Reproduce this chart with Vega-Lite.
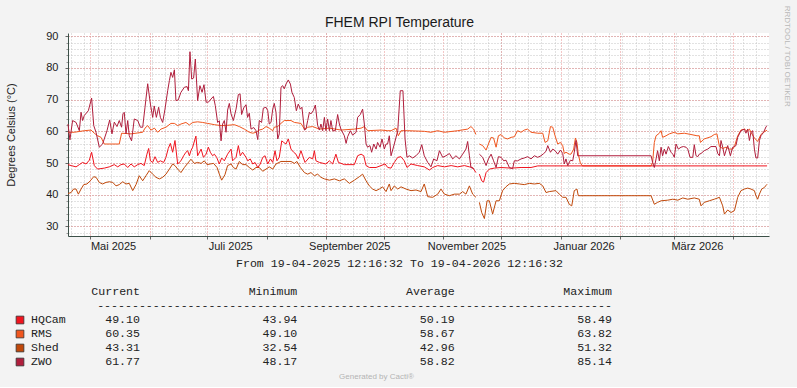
{
"$schema":"https://vega.github.io/schema/vega-lite/v6.json",
"background":"#f3f3f3",
"padding":{"left":5,"top":5,"right":6,"bottom":7},
"title":{"text":"RRDTOOL / TOBI OETIKER","orient":"right","anchor":"start","font":"Liberation Sans","fontSize":8,"fontWeight":"normal","color":"#b8b8b8","offset":14,"dx":-10},
"config":{"view":{"stroke":null},"line":{"invalid":"break-paths-filter-domains"}},
"spacing":6,
"vconcat":[
{
"width":701,"height":203,
"view":{"fill":"#ffffff","stroke":null},
"title":{"text":"FHEM RPI Temperature","font":"Liberation Sans","fontSize":14,"fontWeight":"normal","color":"#1a1a1a","anchor":"middle","frame":"group","dx":-19,"offset":0.5},
"data":{"values":[
{"s":"RMS","day":0,"v":59.7},{"s":"RMS","day":3.3,"v":59.7},{"s":"RMS","day":8.5,"v":60.2},{"s":"RMS","day":12.0,"v":60.4},{"s":"RMS","day":13.7,"v":59.4},{"s":"RMS","day":15.4,"v":58.6},{"s":"RMS","day":17.2,"v":58.1},{"s":"RMS","day":18.9,"v":56.0},{"s":"RMS","day":26.7,"v":56.0},{"s":"RMS","day":27.9,"v":59.4},{"s":"RMS","day":32.8,"v":59.2},{"s":"RMS","day":38.9,"v":59.7},{"s":"RMS","day":40.1,"v":61.0},{"s":"RMS","day":41.5,"v":61.8},{"s":"RMS","day":43.2,"v":60.4},{"s":"RMS","day":45.0,"v":61.0},{"s":"RMS","day":46.7,"v":59.7},{"s":"RMS","day":48.4,"v":60.7},{"s":"RMS","day":51.0,"v":61.3},{"s":"RMS","day":53.6,"v":62.5},{"s":"RMS","day":55.4,"v":62.5},{"s":"RMS","day":57.1,"v":61.8},{"s":"RMS","day":58.8,"v":62.3},{"s":"RMS","day":61.4,"v":62.8},{"s":"RMS","day":63.2,"v":62.0},{"s":"RMS","day":64.9,"v":62.8},{"s":"RMS","day":67.5,"v":63.0},{"s":"RMS","day":70.1,"v":62.8},{"s":"RMS","day":72.7,"v":62.5},{"s":"RMS","day":76.2,"v":62.1},{"s":"RMS","day":79.7,"v":61.8},{"s":"RMS","day":83.1,"v":61.9},{"s":"RMS","day":86.6,"v":62.1},{"s":"RMS","day":89.2,"v":61.5},{"s":"RMS","day":91.8,"v":60.7},{"s":"RMS","day":94.4,"v":59.7},{"s":"RMS","day":96.2,"v":59.4},{"s":"RMS","day":97.9,"v":59.7},{"s":"RMS","day":99.6,"v":60.4},{"s":"RMS","day":101.4,"v":60.7},{"s":"RMS","day":103.1,"v":61.5},{"s":"RMS","day":104.8,"v":61.0},{"s":"RMS","day":106.6,"v":60.2},{"s":"RMS","day":107.4,"v":61.3},{"s":"RMS","day":109.2,"v":61.5},{"s":"RMS","day":110.9,"v":62.5},{"s":"RMS","day":112.6,"v":63.4},{"s":"RMS","day":116.1,"v":63.4},{"s":"RMS","day":117.9,"v":62.8},{"s":"RMS","day":121.3,"v":62.5},{"s":"RMS","day":123.1,"v":60.7},{"s":"RMS","day":124.8,"v":61.3},{"s":"RMS","day":127.4,"v":61.5},{"s":"RMS","day":130.9,"v":60.7},{"s":"RMS","day":136.1,"v":61.0},{"s":"RMS","day":142.2,"v":60.4},{"s":"RMS","day":149.1,"v":60.7},{"s":"RMS","day":152.6,"v":61.0},{"s":"RMS","day":154.3,"v":61.5},{"s":"RMS","day":156.0,"v":60.2},{"s":"RMS","day":163.0,"v":60.4},{"s":"RMS","day":166.5,"v":60.2},{"s":"RMS","day":168.2,"v":60.2},{"s":"RMS","day":170.8,"v":61.0},{"s":"RMS","day":172.0,"v":58.6},{"s":"RMS","day":173.4,"v":60.2},{"s":"RMS","day":176.9,"v":60.2},{"s":"RMS","day":185.5,"v":60.0},{"s":"RMS","day":189.0,"v":59.7},{"s":"RMS","day":192.5,"v":60.2},{"s":"RMS","day":196.0,"v":59.7},{"s":"RMS","day":202.9,"v":60.2},{"s":"RMS","day":208.1,"v":60.7},{"s":"RMS","day":209.8,"v":61.5},{"s":"RMS","day":211.2,"v":60.7},{"s":"RMS","day":212.4,"v":59.0},{"s":"RMS","day":213.3,"v":null},{"s":"RMS","day":214.2,"v":56.0},{"s":"RMS","day":215.9,"v":55.5},{"s":"RMS","day":217.7,"v":54.1},{"s":"RMS","day":218.9,"v":56.0},{"s":"RMS","day":220.3,"v":58.1},{"s":"RMS","day":221.6,"v":57.9},{"s":"RMS","day":222.9,"v":55.0},{"s":"RMS","day":224.1,"v":58.6},{"s":"RMS","day":225.5,"v":59.0},{"s":"RMS","day":227.2,"v":57.9},{"s":"RMS","day":228.9,"v":57.6},{"s":"RMS","day":230.7,"v":58.1},{"s":"RMS","day":232.4,"v":58.3},{"s":"RMS","day":234.1,"v":60.2},{"s":"RMS","day":235.9,"v":59.7},{"s":"RMS","day":237.6,"v":60.4},{"s":"RMS","day":239.3,"v":60.7},{"s":"RMS","day":241.1,"v":59.7},{"s":"RMS","day":244.6,"v":59.4},{"s":"RMS","day":247.2,"v":59.4},{"s":"RMS","day":248.4,"v":56.5},{"s":"RMS","day":249.8,"v":57.0},{"s":"RMS","day":251.2,"v":61.5},{"s":"RMS","day":252.4,"v":61.3},{"s":"RMS","day":253.6,"v":58.6},{"s":"RMS","day":255.0,"v":56.0},{"s":"RMS","day":256.4,"v":56.5},{"s":"RMS","day":257.6,"v":55.5},{"s":"RMS","day":258.4,"v":53.0},{"s":"RMS","day":259.3,"v":53.4},{"s":"RMS","day":261.0,"v":52.8},{"s":"RMS","day":261.9,"v":52.8},{"s":"RMS","day":263.3,"v":54.4},{"s":"RMS","day":264.2,"v":57.9},{"s":"RMS","day":265.0,"v":56.5},{"s":"RMS","day":265.7,"v":52.8},{"s":"RMS","day":266.8,"v":49.9},{"s":"RMS","day":268.0,"v":49.1},{"s":"RMS","day":303.6,"v":49.1},{"s":"RMS","day":304.4,"v":50.2},{"s":"RMS","day":305.3,"v":56.5},{"s":"RMS","day":306.2,"v":58.6},{"s":"RMS","day":307.9,"v":59.4},{"s":"RMS","day":308.8,"v":60.2},{"s":"RMS","day":309.6,"v":58.1},{"s":"RMS","day":311.4,"v":58.6},{"s":"RMS","day":313.1,"v":59.2},{"s":"RMS","day":315.7,"v":59.7},{"s":"RMS","day":317.5,"v":59.2},{"s":"RMS","day":320.9,"v":59.4},{"s":"RMS","day":324.4,"v":59.0},{"s":"RMS","day":327.5,"v":58.6},{"s":"RMS","day":328.7,"v":58.6},{"s":"RMS","day":329.3,"v":56.5},{"s":"RMS","day":331.3,"v":57.6},{"s":"RMS","day":334.8,"v":58.3},{"s":"RMS","day":336.5,"v":59.0},{"s":"RMS","day":337.9,"v":59.2},{"s":"RMS","day":339.2,"v":55.2},{"s":"RMS","day":340.9,"v":54.6},{"s":"RMS","day":342.6,"v":55.0},{"s":"RMS","day":344.4,"v":54.4},{"s":"RMS","day":346.1,"v":54.4},{"s":"RMS","day":347.0,"v":55.2},{"s":"RMS","day":348.7,"v":58.6},{"s":"RMS","day":350.4,"v":60.4},{"s":"RMS","day":352.2,"v":60.7},{"s":"RMS","day":353.6,"v":60.0},{"s":"RMS","day":354.8,"v":60.7},{"s":"RMS","day":355.6,"v":59.7},{"s":"RMS","day":357.4,"v":57.9},{"s":"RMS","day":359.1,"v":56.8},{"s":"RMS","day":360.8,"v":59.0},{"s":"RMS","day":362.2,"v":59.7},{"s":"RMS","day":363.5,"v":60.2},{"s":"RMS","day":364.0,"v":60.35},
{"s":"Shed","day":0,"v":40.4},{"s":"Shed","day":1.6,"v":40.7},{"s":"Shed","day":2.9,"v":41.8},{"s":"Shed","day":4.2,"v":41.8},{"s":"Shed","day":5.4,"v":40.2},{"s":"Shed","day":6.8,"v":41.8},{"s":"Shed","day":8.2,"v":43.2},{"s":"Shed","day":9.9,"v":43.4},{"s":"Shed","day":11.6,"v":44.4},{"s":"Shed","day":13.4,"v":45.7},{"s":"Shed","day":14.6,"v":45.5},{"s":"Shed","day":16.3,"v":43.9},{"s":"Shed","day":18.0,"v":43.4},{"s":"Shed","day":19.8,"v":43.9},{"s":"Shed","day":21.5,"v":44.1},{"s":"Shed","day":23.3,"v":43.9},{"s":"Shed","day":25.0,"v":42.8},{"s":"Shed","day":26.7,"v":43.2},{"s":"Shed","day":28.5,"v":44.1},{"s":"Shed","day":30.2,"v":43.4},{"s":"Shed","day":31.9,"v":43.6},{"s":"Shed","day":33.7,"v":41.3},{"s":"Shed","day":35.4,"v":43.2},{"s":"Shed","day":37.1,"v":46.0},{"s":"Shed","day":38.9,"v":44.4},{"s":"Shed","day":40.6,"v":46.0},{"s":"Shed","day":42.3,"v":47.6},{"s":"Shed","day":44.1,"v":46.5},{"s":"Shed","day":45.8,"v":45.5},{"s":"Shed","day":47.6,"v":45.0},{"s":"Shed","day":49.3,"v":45.5},{"s":"Shed","day":51.0,"v":46.5},{"s":"Shed","day":52.8,"v":48.1},{"s":"Shed","day":54.5,"v":49.7},{"s":"Shed","day":55.7,"v":49.2},{"s":"Shed","day":57.1,"v":48.1},{"s":"Shed","day":58.8,"v":47.0},{"s":"Shed","day":60.6,"v":48.6},{"s":"Shed","day":62.3,"v":49.9},{"s":"Shed","day":64.0,"v":51.2},{"s":"Shed","day":65.8,"v":49.9},{"s":"Shed","day":67.5,"v":50.2},{"s":"Shed","day":69.3,"v":49.9},{"s":"Shed","day":71.0,"v":50.7},{"s":"Shed","day":72.4,"v":49.5},{"s":"Shed","day":74.1,"v":49.7},{"s":"Shed","day":75.8,"v":49.9},{"s":"Shed","day":77.6,"v":48.6},{"s":"Shed","day":78.8,"v":46.5},{"s":"Shed","day":80.0,"v":44.6},{"s":"Shed","day":81.7,"v":46.3},{"s":"Shed","day":83.1,"v":49.2},{"s":"Shed","day":84.9,"v":49.7},{"s":"Shed","day":86.1,"v":48.6},{"s":"Shed","day":87.5,"v":48.1},{"s":"Shed","day":89.2,"v":50.5},{"s":"Shed","day":90.9,"v":49.5},{"s":"Shed","day":92.7,"v":49.5},{"s":"Shed","day":94.4,"v":48.6},{"s":"Shed","day":96.2,"v":47.8},{"s":"Shed","day":97.9,"v":48.6},{"s":"Shed","day":99.6,"v":48.6},{"s":"Shed","day":101.4,"v":47.4},{"s":"Shed","day":103.1,"v":48.1},{"s":"Shed","day":104.8,"v":48.8},{"s":"Shed","day":106.6,"v":48.1},{"s":"Shed","day":108.3,"v":49.7},{"s":"Shed","day":110.9,"v":50.5},{"s":"Shed","day":113.5,"v":50.5},{"s":"Shed","day":116.1,"v":50.5},{"s":"Shed","day":117.9,"v":49.9},{"s":"Shed","day":119.2,"v":50.5},{"s":"Shed","day":121.0,"v":48.6},{"s":"Shed","day":123.1,"v":47.0},{"s":"Shed","day":124.8,"v":46.5},{"s":"Shed","day":126.5,"v":47.0},{"s":"Shed","day":128.3,"v":46.0},{"s":"Shed","day":130.0,"v":46.5},{"s":"Shed","day":131.7,"v":45.5},{"s":"Shed","day":133.5,"v":45.0},{"s":"Shed","day":136.1,"v":44.6},{"s":"Shed","day":138.7,"v":45.0},{"s":"Shed","day":141.3,"v":44.4},{"s":"Shed","day":143.9,"v":45.0},{"s":"Shed","day":146.5,"v":43.6},{"s":"Shed","day":149.1,"v":44.6},{"s":"Shed","day":151.7,"v":45.7},{"s":"Shed","day":153.4,"v":46.5},{"s":"Shed","day":155.2,"v":44.4},{"s":"Shed","day":156.9,"v":42.8},{"s":"Shed","day":158.6,"v":41.8},{"s":"Shed","day":160.4,"v":41.3},{"s":"Shed","day":162.1,"v":41.8},{"s":"Shed","day":163.8,"v":42.5},{"s":"Shed","day":165.6,"v":41.0},{"s":"Shed","day":167.3,"v":43.4},{"s":"Shed","day":168.2,"v":41.3},{"s":"Shed","day":169.9,"v":42.8},{"s":"Shed","day":171.7,"v":41.8},{"s":"Shed","day":173.4,"v":42.5},{"s":"Shed","day":176.0,"v":41.8},{"s":"Shed","day":178.6,"v":41.3},{"s":"Shed","day":181.2,"v":41.5},{"s":"Shed","day":183.8,"v":41.0},{"s":"Shed","day":185.5,"v":43.4},{"s":"Shed","day":187.3,"v":39.4},{"s":"Shed","day":189.9,"v":39.2},{"s":"Shed","day":192.5,"v":40.2},{"s":"Shed","day":194.2,"v":41.8},{"s":"Shed","day":196.0,"v":40.2},{"s":"Shed","day":198.6,"v":39.7},{"s":"Shed","day":201.2,"v":40.2},{"s":"Shed","day":203.8,"v":40.2},{"s":"Shed","day":205.5,"v":41.0},{"s":"Shed","day":207.2,"v":40.2},{"s":"Shed","day":209.0,"v":42.8},{"s":"Shed","day":210.7,"v":40.2},{"s":"Shed","day":212.4,"v":39.2},{"s":"Shed","day":213.3,"v":null},{"s":"Shed","day":214.2,"v":37.6},{"s":"Shed","day":215.4,"v":34.4},{"s":"Shed","day":216.8,"v":32.5},{"s":"Shed","day":218.2,"v":38.1},{"s":"Shed","day":219.4,"v":38.1},{"s":"Shed","day":221.1,"v":33.9},{"s":"Shed","day":222.9,"v":38.1},{"s":"Shed","day":224.6,"v":38.1},{"s":"Shed","day":226.3,"v":41.3},{"s":"Shed","day":228.0,"v":42.5},{"s":"Shed","day":229.8,"v":43.4},{"s":"Shed","day":232.4,"v":43.6},{"s":"Shed","day":235.0,"v":43.4},{"s":"Shed","day":237.6,"v":43.2},{"s":"Shed","day":240.2,"v":43.6},{"s":"Shed","day":242.8,"v":43.4},{"s":"Shed","day":245.4,"v":43.6},{"s":"Shed","day":247.2,"v":42.8},{"s":"Shed","day":248.9,"v":40.7},{"s":"Shed","day":250.6,"v":41.0},{"s":"Shed","day":254.1,"v":41.3},{"s":"Shed","day":255.8,"v":40.2},{"s":"Shed","day":257.6,"v":39.2},{"s":"Shed","day":259.3,"v":39.2},{"s":"Shed","day":261.0,"v":37.0},{"s":"Shed","day":262.3,"v":36.5},{"s":"Shed","day":263.6,"v":41.3},{"s":"Shed","day":265.0,"v":41.8},{"s":"Shed","day":265.7,"v":39.7},{"s":"Shed","day":303.6,"v":39.7},{"s":"Shed","day":305.3,"v":37.0},{"s":"Shed","day":307.0,"v":37.6},{"s":"Shed","day":308.8,"v":38.1},{"s":"Shed","day":312.3,"v":38.3},{"s":"Shed","day":314.9,"v":38.6},{"s":"Shed","day":317.5,"v":38.3},{"s":"Shed","day":320.1,"v":39.0},{"s":"Shed","day":322.7,"v":38.6},{"s":"Shed","day":326.1,"v":39.0},{"s":"Shed","day":328.7,"v":38.6},{"s":"Shed","day":329.6,"v":36.5},{"s":"Shed","day":331.3,"v":37.6},{"s":"Shed","day":333.9,"v":38.1},{"s":"Shed","day":336.5,"v":38.6},{"s":"Shed","day":339.2,"v":39.2},{"s":"Shed","day":340.9,"v":36.5},{"s":"Shed","day":341.8,"v":33.9},{"s":"Shed","day":343.5,"v":35.2},{"s":"Shed","day":345.2,"v":34.4},{"s":"Shed","day":347.0,"v":35.0},{"s":"Shed","day":348.7,"v":39.2},{"s":"Shed","day":350.4,"v":41.3},{"s":"Shed","day":352.2,"v":41.8},{"s":"Shed","day":353.9,"v":42.1},{"s":"Shed","day":355.6,"v":41.8},{"s":"Shed","day":357.4,"v":41.3},{"s":"Shed","day":358.2,"v":39.7},{"s":"Shed","day":359.1,"v":38.6},{"s":"Shed","day":360.0,"v":40.2},{"s":"Shed","day":361.2,"v":41.8},{"s":"Shed","day":362.6,"v":42.3},{"s":"Shed","day":363.5,"v":43.0},{"s":"Shed","day":364.0,"v":43.31},
{"s":"HQCam","day":0,"v":49.5},{"s":"HQCam","day":1.6,"v":49.2},{"s":"HQCam","day":4.2,"v":48.8},{"s":"HQCam","day":5.9,"v":49.5},{"s":"HQCam","day":7.6,"v":50.2},{"s":"HQCam","day":9.4,"v":49.7},{"s":"HQCam","day":11.1,"v":50.9},{"s":"HQCam","day":12.3,"v":53.4},{"s":"HQCam","day":13.7,"v":49.2},{"s":"HQCam","day":15.4,"v":48.1},{"s":"HQCam","day":18.9,"v":48.4},{"s":"HQCam","day":21.5,"v":48.8},{"s":"HQCam","day":24.1,"v":49.5},{"s":"HQCam","day":25.9,"v":48.8},{"s":"HQCam","day":27.6,"v":49.5},{"s":"HQCam","day":29.3,"v":49.7},{"s":"HQCam","day":31.1,"v":48.6},{"s":"HQCam","day":32.8,"v":49.7},{"s":"HQCam","day":34.5,"v":48.8},{"s":"HQCam","day":36.3,"v":49.5},{"s":"HQCam","day":38.0,"v":49.9},{"s":"HQCam","day":39.7,"v":49.2},{"s":"HQCam","day":41.1,"v":52.8},{"s":"HQCam","day":42.0,"v":54.6},{"s":"HQCam","day":42.9,"v":50.7},{"s":"HQCam","day":44.1,"v":50.2},{"s":"HQCam","day":45.3,"v":52.0},{"s":"HQCam","day":46.7,"v":50.2},{"s":"HQCam","day":48.1,"v":50.7},{"s":"HQCam","day":49.8,"v":50.2},{"s":"HQCam","day":51.0,"v":51.8},{"s":"HQCam","day":52.2,"v":54.6},{"s":"HQCam","day":53.3,"v":56.2},{"s":"HQCam","day":54.5,"v":53.4},{"s":"HQCam","day":55.7,"v":57.1},{"s":"HQCam","day":57.1,"v":49.7},{"s":"HQCam","day":58.8,"v":50.7},{"s":"HQCam","day":60.2,"v":52.3},{"s":"HQCam","day":61.4,"v":53.4},{"s":"HQCam","day":62.3,"v":53.9},{"s":"HQCam","day":63.2,"v":52.3},{"s":"HQCam","day":64.0,"v":53.9},{"s":"HQCam","day":64.9,"v":55.0},{"s":"HQCam","day":66.6,"v":58.5},{"s":"HQCam","day":67.5,"v":52.3},{"s":"HQCam","day":69.3,"v":54.4},{"s":"HQCam","day":70.5,"v":51.8},{"s":"HQCam","day":71.9,"v":52.8},{"s":"HQCam","day":73.1,"v":55.0},{"s":"HQCam","day":74.1,"v":53.4},{"s":"HQCam","day":75.3,"v":52.3},{"s":"HQCam","day":76.2,"v":52.8},{"s":"HQCam","day":77.4,"v":51.8},{"s":"HQCam","day":78.8,"v":49.7},{"s":"HQCam","day":80.0,"v":51.6},{"s":"HQCam","day":81.4,"v":50.7},{"s":"HQCam","day":83.1,"v":52.8},{"s":"HQCam","day":84.9,"v":54.4},{"s":"HQCam","day":85.7,"v":50.7},{"s":"HQCam","day":87.5,"v":51.8},{"s":"HQCam","day":88.7,"v":55.5},{"s":"HQCam","day":89.7,"v":52.3},{"s":"HQCam","day":90.9,"v":53.4},{"s":"HQCam","day":92.7,"v":51.8},{"s":"HQCam","day":93.6,"v":50.7},{"s":"HQCam","day":94.9,"v":51.3},{"s":"HQCam","day":96.2,"v":49.7},{"s":"HQCam","day":97.4,"v":50.2},{"s":"HQCam","day":98.8,"v":48.6},{"s":"HQCam","day":100.1,"v":49.7},{"s":"HQCam","day":101.4,"v":51.8},{"s":"HQCam","day":102.6,"v":52.3},{"s":"HQCam","day":104.0,"v":49.7},{"s":"HQCam","day":105.4,"v":51.3},{"s":"HQCam","day":106.6,"v":50.2},{"s":"HQCam","day":107.8,"v":53.9},{"s":"HQCam","day":108.8,"v":50.7},{"s":"HQCam","day":110.0,"v":51.8},{"s":"HQCam","day":111.3,"v":57.0},{"s":"HQCam","day":112.3,"v":56.5},{"s":"HQCam","day":113.5,"v":56.0},{"s":"HQCam","day":114.7,"v":57.6},{"s":"HQCam","day":116.1,"v":54.4},{"s":"HQCam","day":117.5,"v":53.4},{"s":"HQCam","day":118.7,"v":52.8},{"s":"HQCam","day":119.9,"v":51.3},{"s":"HQCam","day":121.3,"v":53.9},{"s":"HQCam","day":122.2,"v":52.3},{"s":"HQCam","day":123.4,"v":50.2},{"s":"HQCam","day":125.7,"v":51.8},{"s":"HQCam","day":127.4,"v":51.3},{"s":"HQCam","day":128.3,"v":53.9},{"s":"HQCam","day":129.1,"v":50.7},{"s":"HQCam","day":130.9,"v":50.2},{"s":"HQCam","day":134.3,"v":49.7},{"s":"HQCam","day":136.1,"v":50.7},{"s":"HQCam","day":137.8,"v":49.7},{"s":"HQCam","day":139.5,"v":52.8},{"s":"HQCam","day":140.8,"v":50.2},{"s":"HQCam","day":143.9,"v":49.5},{"s":"HQCam","day":149.1,"v":49.5},{"s":"HQCam","day":150.8,"v":52.3},{"s":"HQCam","day":152.6,"v":52.8},{"s":"HQCam","day":154.0,"v":52.3},{"s":"HQCam","day":155.2,"v":49.2},{"s":"HQCam","day":156.9,"v":48.6},{"s":"HQCam","day":160.4,"v":48.6},{"s":"HQCam","day":165.1,"v":49.7},{"s":"HQCam","day":166.5,"v":48.6},{"s":"HQCam","day":168.2,"v":48.4},{"s":"HQCam","day":169.9,"v":50.2},{"s":"HQCam","day":171.7,"v":51.8},{"s":"HQCam","day":173.4,"v":52.0},{"s":"HQCam","day":175.1,"v":50.7},{"s":"HQCam","day":176.5,"v":48.6},{"s":"HQCam","day":178.6,"v":49.7},{"s":"HQCam","day":182.1,"v":49.2},{"s":"HQCam","day":185.5,"v":48.8},{"s":"HQCam","day":188.2,"v":47.8},{"s":"HQCam","day":189.9,"v":48.6},{"s":"HQCam","day":192.5,"v":49.2},{"s":"HQCam","day":196.0,"v":48.8},{"s":"HQCam","day":199.5,"v":49.2},{"s":"HQCam","day":202.9,"v":48.8},{"s":"HQCam","day":206.4,"v":49.2},{"s":"HQCam","day":209.0,"v":48.8},{"s":"HQCam","day":210.7,"v":48.6},{"s":"HQCam","day":212.4,"v":47.0},{"s":"HQCam","day":213.3,"v":null},{"s":"HQCam","day":214.2,"v":46.5},{"s":"HQCam","day":215.4,"v":44.4},{"s":"HQCam","day":216.4,"v":44.0},{"s":"HQCam","day":217.7,"v":47.0},{"s":"HQCam","day":219.4,"v":48.1},{"s":"HQCam","day":222.0,"v":48.4},{"s":"HQCam","day":225.5,"v":48.6},{"s":"HQCam","day":230.7,"v":48.4},{"s":"HQCam","day":235.9,"v":48.6},{"s":"HQCam","day":241.1,"v":48.6},{"s":"HQCam","day":244.6,"v":49.1},{"s":"HQCam","day":364.0,"v":49.1},
{"s":"ZWO","day":0,"v":62.3},{"s":"ZWO","day":1.0,"v":57.3},{"s":"ZWO","day":2.4,"v":63.4},{"s":"ZWO","day":4.2,"v":62.8},{"s":"ZWO","day":5.9,"v":60.2},{"s":"ZWO","day":6.8,"v":66.0},{"s":"ZWO","day":7.6,"v":63.4},{"s":"ZWO","day":8.5,"v":65.0},{"s":"ZWO","day":10.6,"v":66.5},{"s":"ZWO","day":12.3,"v":70.5},{"s":"ZWO","day":13.4,"v":61.8},{"s":"ZWO","day":14.6,"v":59.7},{"s":"ZWO","day":16.3,"v":55.0},{"s":"ZWO","day":18.0,"v":56.0},{"s":"ZWO","day":20.3,"v":60.2},{"s":"ZWO","day":21.7,"v":63.6},{"s":"ZWO","day":22.9,"v":59.2},{"s":"ZWO","day":24.1,"v":62.9},{"s":"ZWO","day":25.5,"v":61.5},{"s":"ZWO","day":26.7,"v":63.4},{"s":"ZWO","day":27.9,"v":61.3},{"s":"ZWO","day":28.6,"v":65.5},{"s":"ZWO","day":29.3,"v":66.0},{"s":"ZWO","day":30.2,"v":59.2},{"s":"ZWO","day":31.1,"v":63.4},{"s":"ZWO","day":31.9,"v":58.6},{"s":"ZWO","day":33.1,"v":57.0},{"s":"ZWO","day":34.5,"v":63.9},{"s":"ZWO","day":36.3,"v":63.4},{"s":"ZWO","day":37.7,"v":61.3},{"s":"ZWO","day":38.9,"v":61.3},{"s":"ZWO","day":40.1,"v":67.6},{"s":"ZWO","day":41.5,"v":75.0},{"s":"ZWO","day":42.9,"v":68.6},{"s":"ZWO","day":44.1,"v":64.4},{"s":"ZWO","day":44.9,"v":68.0},{"s":"ZWO","day":46.0,"v":64.4},{"s":"ZWO","day":47.2,"v":67.6},{"s":"ZWO","day":48.1,"v":64.4},{"s":"ZWO","day":49.3,"v":62.8},{"s":"ZWO","day":50.5,"v":67.0},{"s":"ZWO","day":51.9,"v":72.8},{"s":"ZWO","day":52.8,"v":76.0},{"s":"ZWO","day":53.6,"v":78.6},{"s":"ZWO","day":54.5,"v":77.0},{"s":"ZWO","day":55.4,"v":79.4},{"s":"ZWO","day":56.2,"v":69.7},{"s":"ZWO","day":57.4,"v":69.9},{"s":"ZWO","day":58.8,"v":72.3},{"s":"ZWO","day":60.6,"v":73.9},{"s":"ZWO","day":62.0,"v":74.1},{"s":"ZWO","day":62.7,"v":72.8},{"s":"ZWO","day":63.5,"v":85.1},{"s":"ZWO","day":64.4,"v":76.5},{"s":"ZWO","day":65.4,"v":76.8},{"s":"ZWO","day":66.3,"v":82.8},{"s":"ZWO","day":67.5,"v":69.7},{"s":"ZWO","day":68.7,"v":74.4},{"s":"ZWO","day":69.8,"v":72.3},{"s":"ZWO","day":70.8,"v":74.7},{"s":"ZWO","day":71.9,"v":69.2},{"s":"ZWO","day":73.1,"v":69.2},{"s":"ZWO","day":74.5,"v":70.2},{"s":"ZWO","day":75.7,"v":71.0},{"s":"ZWO","day":76.7,"v":68.1},{"s":"ZWO","day":77.9,"v":62.8},{"s":"ZWO","day":78.8,"v":63.3},{"s":"ZWO","day":79.7,"v":57.0},{"s":"ZWO","day":80.5,"v":62.3},{"s":"ZWO","day":81.4,"v":63.4},{"s":"ZWO","day":82.3,"v":59.7},{"s":"ZWO","day":83.1,"v":66.7},{"s":"ZWO","day":84.0,"v":68.8},{"s":"ZWO","day":84.9,"v":65.5},{"s":"ZWO","day":86.1,"v":63.4},{"s":"ZWO","day":87.5,"v":67.0},{"s":"ZWO","day":88.7,"v":71.6},{"s":"ZWO","day":89.6,"v":71.8},{"s":"ZWO","day":90.4,"v":65.3},{"s":"ZWO","day":91.5,"v":67.4},{"s":"ZWO","day":92.7,"v":68.4},{"s":"ZWO","day":93.5,"v":64.4},{"s":"ZWO","day":94.4,"v":65.7},{"s":"ZWO","day":95.3,"v":60.7},{"s":"ZWO","day":96.7,"v":61.2},{"s":"ZWO","day":97.9,"v":60.2},{"s":"ZWO","day":98.8,"v":57.4},{"s":"ZWO","day":99.6,"v":63.4},{"s":"ZWO","day":100.8,"v":62.8},{"s":"ZWO","day":101.7,"v":67.3},{"s":"ZWO","day":103.1,"v":67.6},{"s":"ZWO","day":104.0,"v":66.5},{"s":"ZWO","day":104.8,"v":62.3},{"s":"ZWO","day":105.7,"v":62.8},{"s":"ZWO","day":106.6,"v":67.0},{"s":"ZWO","day":107.4,"v":68.8},{"s":"ZWO","day":108.3,"v":66.0},{"s":"ZWO","day":109.2,"v":57.6},{"s":"ZWO","day":110.0,"v":59.2},{"s":"ZWO","day":110.9,"v":73.9},{"s":"ZWO","day":111.8,"v":74.4},{"s":"ZWO","day":112.6,"v":73.4},{"s":"ZWO","day":113.5,"v":74.9},{"s":"ZWO","day":114.7,"v":76.2},{"s":"ZWO","day":115.8,"v":74.9},{"s":"ZWO","day":116.6,"v":72.3},{"s":"ZWO","day":117.8,"v":70.7},{"s":"ZWO","day":118.9,"v":66.5},{"s":"ZWO","day":119.9,"v":68.6},{"s":"ZWO","day":121.0,"v":67.0},{"s":"ZWO","day":121.8,"v":67.6},{"s":"ZWO","day":123.1,"v":60.4},{"s":"ZWO","day":123.9,"v":60.7},{"s":"ZWO","day":124.8,"v":63.4},{"s":"ZWO","day":125.7,"v":66.0},{"s":"ZWO","day":126.5,"v":65.5},{"s":"ZWO","day":127.7,"v":66.5},{"s":"ZWO","day":128.8,"v":68.3},{"s":"ZWO","day":130.0,"v":61.8},{"s":"ZWO","day":130.9,"v":60.4},{"s":"ZWO","day":131.7,"v":62.3},{"s":"ZWO","day":132.6,"v":60.2},{"s":"ZWO","day":133.5,"v":64.4},{"s":"ZWO","day":134.3,"v":60.2},{"s":"ZWO","day":135.2,"v":63.9},{"s":"ZWO","day":136.1,"v":60.2},{"s":"ZWO","day":136.9,"v":63.4},{"s":"ZWO","day":137.8,"v":60.2},{"s":"ZWO","day":139.2,"v":60.2},{"s":"ZWO","day":140.4,"v":65.3},{"s":"ZWO","day":141.3,"v":62.3},{"s":"ZWO","day":142.1,"v":60.7},{"s":"ZWO","day":143.9,"v":58.6},{"s":"ZWO","day":144.8,"v":56.2},{"s":"ZWO","day":145.6,"v":58.3},{"s":"ZWO","day":147.0,"v":60.2},{"s":"ZWO","day":148.2,"v":58.8},{"s":"ZWO","day":150.0,"v":59.7},{"s":"ZWO","day":150.8,"v":64.4},{"s":"ZWO","day":152.2,"v":65.3},{"s":"ZWO","day":153.4,"v":67.0},{"s":"ZWO","day":154.3,"v":62.3},{"s":"ZWO","day":155.2,"v":56.0},{"s":"ZWO","day":156.0,"v":55.0},{"s":"ZWO","day":157.2,"v":55.5},{"s":"ZWO","day":158.1,"v":53.4},{"s":"ZWO","day":159.2,"v":56.0},{"s":"ZWO","day":160.4,"v":54.4},{"s":"ZWO","day":161.2,"v":56.5},{"s":"ZWO","day":162.5,"v":55.0},{"s":"ZWO","day":163.5,"v":57.6},{"s":"ZWO","day":164.7,"v":54.4},{"s":"ZWO","day":165.6,"v":56.0},{"s":"ZWO","day":166.4,"v":56.0},{"s":"ZWO","day":167.3,"v":58.6},{"s":"ZWO","day":168.2,"v":52.3},{"s":"ZWO","day":169.9,"v":56.0},{"s":"ZWO","day":171.7,"v":60.2},{"s":"ZWO","day":173.0,"v":72.8},{"s":"ZWO","day":174.4,"v":72.8},{"s":"ZWO","day":175.5,"v":57.6},{"s":"ZWO","day":176.5,"v":51.8},{"s":"ZWO","day":177.7,"v":52.3},{"s":"ZWO","day":179.5,"v":51.6},{"s":"ZWO","day":181.2,"v":52.3},{"s":"ZWO","day":182.9,"v":53.4},{"s":"ZWO","day":184.2,"v":55.8},{"s":"ZWO","day":185.5,"v":52.3},{"s":"ZWO","day":187.3,"v":50.2},{"s":"ZWO","day":189.0,"v":48.8},{"s":"ZWO","day":190.4,"v":51.3},{"s":"ZWO","day":192.1,"v":50.7},{"s":"ZWO","day":193.4,"v":53.9},{"s":"ZWO","day":195.1,"v":51.8},{"s":"ZWO","day":196.8,"v":52.3},{"s":"ZWO","day":198.6,"v":53.0},{"s":"ZWO","day":200.3,"v":51.3},{"s":"ZWO","day":202.0,"v":52.3},{"s":"ZWO","day":203.8,"v":51.3},{"s":"ZWO","day":205.5,"v":52.8},{"s":"ZWO","day":207.2,"v":54.4},{"s":"ZWO","day":208.1,"v":56.8},{"s":"ZWO","day":209.0,"v":52.3},{"s":"ZWO","day":209.8,"v":48.6},{"s":"ZWO","day":211.2,"v":48.2},{"s":"ZWO","day":213.3,"v":null},{"s":"ZWO","day":214.2,"v":52.8},{"s":"ZWO","day":215.9,"v":51.8},{"s":"ZWO","day":217.7,"v":49.2},{"s":"ZWO","day":218.9,"v":51.3},{"s":"ZWO","day":220.3,"v":52.8},{"s":"ZWO","day":221.6,"v":50.7},{"s":"ZWO","day":222.9,"v":48.6},{"s":"ZWO","day":224.1,"v":52.0},{"s":"ZWO","day":225.5,"v":51.8},{"s":"ZWO","day":226.9,"v":50.7},{"s":"ZWO","day":228.1,"v":50.9},{"s":"ZWO","day":229.8,"v":48.6},{"s":"ZWO","day":231.5,"v":48.2},{"s":"ZWO","day":232.4,"v":50.7},{"s":"ZWO","day":234.1,"v":50.7},{"s":"ZWO","day":235.9,"v":51.3},{"s":"ZWO","day":237.6,"v":51.6},{"s":"ZWO","day":239.3,"v":52.0},{"s":"ZWO","day":241.1,"v":51.3},{"s":"ZWO","day":242.8,"v":52.3},{"s":"ZWO","day":244.6,"v":51.8},{"s":"ZWO","day":246.3,"v":52.3},{"s":"ZWO","day":247.7,"v":53.0},{"s":"ZWO","day":248.9,"v":53.7},{"s":"ZWO","day":249.8,"v":55.5},{"s":"ZWO","day":251.2,"v":53.4},{"s":"ZWO","day":252.4,"v":54.4},{"s":"ZWO","day":253.6,"v":53.9},{"s":"ZWO","day":255.0,"v":52.8},{"s":"ZWO","day":256.4,"v":54.1},{"s":"ZWO","day":257.6,"v":53.0},{"s":"ZWO","day":258.4,"v":49.7},{"s":"ZWO","day":259.3,"v":51.3},{"s":"ZWO","day":260.2,"v":49.2},{"s":"ZWO","day":261.6,"v":50.9},{"s":"ZWO","day":262.8,"v":50.7},{"s":"ZWO","day":263.6,"v":53.4},{"s":"ZWO","day":264.5,"v":57.1},{"s":"ZWO","day":265.4,"v":52.3},{"s":"ZWO","day":303.6,"v":52.3},{"s":"ZWO","day":304.4,"v":50.2},{"s":"ZWO","day":305.3,"v":48.6},{"s":"ZWO","day":306.2,"v":51.3},{"s":"ZWO","day":307.0,"v":53.9},{"s":"ZWO","day":307.9,"v":50.7},{"s":"ZWO","day":308.8,"v":55.0},{"s":"ZWO","day":309.6,"v":52.3},{"s":"ZWO","day":310.5,"v":54.4},{"s":"ZWO","day":311.4,"v":52.8},{"s":"ZWO","day":312.6,"v":55.2},{"s":"ZWO","day":314.0,"v":53.4},{"s":"ZWO","day":314.9,"v":52.8},{"s":"ZWO","day":315.7,"v":51.8},{"s":"ZWO","day":316.6,"v":56.0},{"s":"ZWO","day":317.8,"v":54.4},{"s":"ZWO","day":319.2,"v":55.0},{"s":"ZWO","day":320.4,"v":55.2},{"s":"ZWO","day":321.8,"v":55.0},{"s":"ZWO","day":322.7,"v":54.4},{"s":"ZWO","day":323.9,"v":51.8},{"s":"ZWO","day":325.3,"v":51.8},{"s":"ZWO","day":326.1,"v":55.8},{"s":"ZWO","day":327.0,"v":52.3},{"s":"ZWO","day":327.9,"v":52.0},{"s":"ZWO","day":328.7,"v":52.8},{"s":"ZWO","day":329.6,"v":53.0},{"s":"ZWO","day":331.3,"v":53.9},{"s":"ZWO","day":333.1,"v":54.4},{"s":"ZWO","day":334.8,"v":55.2},{"s":"ZWO","day":337.4,"v":55.2},{"s":"ZWO","day":338.3,"v":53.0},{"s":"ZWO","day":339.2,"v":52.3},{"s":"ZWO","day":340.0,"v":57.1},{"s":"ZWO","day":340.9,"v":55.0},{"s":"ZWO","day":341.8,"v":52.3},{"s":"ZWO","day":342.6,"v":53.9},{"s":"ZWO","day":343.5,"v":55.5},{"s":"ZWO","day":344.9,"v":52.3},{"s":"ZWO","day":346.1,"v":55.0},{"s":"ZWO","day":347.0,"v":55.2},{"s":"ZWO","day":347.8,"v":55.5},{"s":"ZWO","day":348.7,"v":58.1},{"s":"ZWO","day":350.4,"v":60.2},{"s":"ZWO","day":352.2,"v":60.7},{"s":"ZWO","day":353.0,"v":59.4},{"s":"ZWO","day":353.9,"v":60.7},{"s":"ZWO","day":354.8,"v":57.1},{"s":"ZWO","day":355.6,"v":59.7},{"s":"ZWO","day":356.5,"v":60.2},{"s":"ZWO","day":357.4,"v":54.4},{"s":"ZWO","day":358.2,"v":51.6},{"s":"ZWO","day":359.1,"v":51.6},{"s":"ZWO","day":360.0,"v":57.1},{"s":"ZWO","day":360.8,"v":58.6},{"s":"ZWO","day":362.2,"v":59.7},{"s":"ZWO","day":363.5,"v":61.5},{"s":"ZWO","day":364.0,"v":61.77}
]},
"layer":[
{"mark":{"type":"line","strokeOpacity":0},
 "encoding":{
  "x":{"field":"day","type":"quantitative","scale":{"domain":[0,365],"nice":false,"zero":false},
   "axis":{"orient":"bottom","values":[1.49,8.49,15.49,22.49,29.49,36.49,43.49,50.49,57.49,64.49,71.49,78.49,85.49,92.49,99.49,106.49,113.49,120.49,127.49,134.49,141.49,148.49,155.49,162.49,169.49,176.49,183.49,190.49,197.49,204.49,211.49,218.49,225.49,232.49,239.49,246.49,253.49,260.49,267.49,274.49,281.49,288.49,295.49,302.49,309.49,316.49,323.49,330.49,337.49,344.49,351.49,358.49],"grid":true,"gridColor":"#c4c4c4","gridDash":[1,2],"gridWidth":1,"labels":false,"ticks":false,"domain":false,"title":null}},
  "y":{"field":"v","type":"quantitative","scale":{"domain":[27,91],"nice":false,"zero":false},
   "axis":{"orient":"left","values":[28,30,32,34,36,38,40,42,44,46,48,50,52,54,56,58,60,62,64,66,68,70,72,74,76,78,80,82,84,86,88,90],"grid":true,"gridColor":"#c4c4c4","gridDash":[1,2],"labels":false,"ticks":true,"tickSize":2,"tickColor":"#999999","domain":false,"title":null}},
  "detail":{"field":"s","type":"nominal"}
 }},
{"mark":{"type":"line","strokeWidth":1},
 "encoding":{
  "x":{"field":"day","type":"quantitative","scale":{"domain":[0,365],"nice":false,"zero":false},
   "axis":{"orient":"bottom","values":[11.49,42.49,72.49,103.49,134.49,164.49,195.49,225.49,256.49,287.49,315.49,346.49],"grid":true,"gridColor":"#e06a6a","gridOpacity":0.75,"gridDash":[1,2],"gridWidth":1,
    "labelExpr":"datum.value == 11.49 ? 'Mai 2025' : datum.value == 72.49 ? 'Juli 2025' : datum.value == 134.49 ? 'September 2025' : datum.value == 195.49 ? 'November 2025' : datum.value == 256.49 ? 'Januar 2026' : datum.value == 315.49 ? 'März 2026' : ''",
    "labelOffset":23,"labelFont":"Liberation Sans","labelFontSize":11,"labelColor":"#222222","labelPadding":1,"labelOverlap":false,"labelFlush":false,"labelBound":false,
    "tickSize":3,"tickColor":"#666666","domain":true,"domainColor":"#3c5048","domainWidth":1,"title":null}},
  "y":{"field":"v","type":"quantitative","scale":{"domain":[27,91],"nice":false,"zero":false},
   "axis":{"orient":"left","values":[30,40,50,60,70,80,90],"grid":true,"gridColor":"#e06a6a","gridOpacity":0.75,"gridDash":[1,2],"gridWidth":1,
    "labelFont":"Liberation Sans","labelFontSize":11,"labelColor":"#222222","labelPadding":7,"tickSize":3,"tickColor":"#666666","domain":true,"domainColor":"#3c5048","domainWidth":1,
    "title":"Degrees Celsius (°C)","titleFont":"Liberation Sans","titleFontSize":11,"titleFontWeight":"normal","titleColor":"#222222","titlePadding":29}},
  "color":{"field":"s","type":"nominal","scale":{"domain":["HQCam","RMS","Shed","ZWO"],"range":["#f0141e","#f0561e","#c0480a","#b01e3c"]},"legend":null}
 }}
],
"resolve":{"axis":{"x":"independent","y":"independent"}}
},
{
"width":663,"height":70,
"title":{"text":"From 19-04-2025 12:16:32 To 19-04-2026 12:16:32","font":"Liberation Mono","fontSize":11.6,"fontWeight":"normal","color":"#222222","anchor":"middle","frame":"group","offset":16.5},
"data":{"values":[
{"row":"head","col":"Current","txt":"Current"},{"row":"head","col":"Minimum","txt":"Minimum"},{"row":"head","col":"Average","txt":"Average"},{"row":"head","col":"Maximum","txt":"Maximum"},
{"row":"dash","col":"Maximum","txt":"--------------------------------------------------------------------------"},
{"row":"HQCam","col":"name","txt":"HQCam"},{"row":"HQCam","col":"Current","txt":"49.10"},{"row":"HQCam","col":"Minimum","txt":"43.94"},{"row":"HQCam","col":"Average","txt":"50.19"},{"row":"HQCam","col":"Maximum","txt":"58.49"},
{"row":"RMS","col":"name","txt":"RMS"},{"row":"RMS","col":"Current","txt":"60.35"},{"row":"RMS","col":"Minimum","txt":"49.10"},{"row":"RMS","col":"Average","txt":"58.67"},{"row":"RMS","col":"Maximum","txt":"63.82"},
{"row":"Shed","col":"name","txt":"Shed"},{"row":"Shed","col":"Current","txt":"43.31"},{"row":"Shed","col":"Minimum","txt":"32.54"},{"row":"Shed","col":"Average","txt":"42.96"},{"row":"Shed","col":"Maximum","txt":"51.32"},
{"row":"ZWO","col":"name","txt":"ZWO"},{"row":"ZWO","col":"Current","txt":"61.77"},{"row":"ZWO","col":"Minimum","txt":"48.17"},{"row":"ZWO","col":"Average","txt":"58.82"},{"row":"ZWO","col":"Maximum","txt":"85.14"}
]},
"encoding":{
 "y":{"field":"row","type":"nominal","scale":{"type":"point","domain":["head","dash","HQCam","RMS","Shed","ZWO"],"padding":0},"axis":null}
},
"layer":[
{"transform":[{"filter":"datum.col != 'name'"}],
 "mark":{"type":"text","align":"right","baseline":"middle","font":"Liberation Mono","fontSize":11.6,"color":"#222222"},
 "encoding":{
  "x":{"field":"col","type":"nominal","scale":{"type":"point","domain":["Current","Minimum","Average","Maximum"],"range":[72,544],"padding":0},
   "axis":{"labels":false,"ticks":false,"domain":false,"grid":false,"title":"Generated by Cacti®","titleFont":"Liberation Sans","titleFontSize":8,"titleFontWeight":"normal","titleColor":"#b4b4b4","titlePadding":10}},
  "text":{"field":"txt","type":"nominal"}
 }},
{"transform":[{"filter":"datum.col == 'name'"}],
 "mark":{"type":"text","align":"left","baseline":"middle","font":"Liberation Mono","fontSize":11.6,"color":"#222222","dx":-109},
 "encoding":{
  "x":{"datum":"Current"},
  "text":{"field":"txt","type":"nominal"}
 }},
{"transform":[{"filter":"datum.col == 'name'"}],
 "mark":{"type":"square","filled":true,"size":60,"opacity":1,"stroke":"#333333","strokeWidth":0.8,"xOffset":-120},
 "encoding":{
  "x":{"datum":"Current"},
  "color":{"field":"row","type":"nominal","scale":{"domain":["HQCam","RMS","Shed","ZWO"],"range":["#f0141e","#f0561e","#c0480a","#b01e3c"]},"legend":null}
 }}
]
}
]
}
